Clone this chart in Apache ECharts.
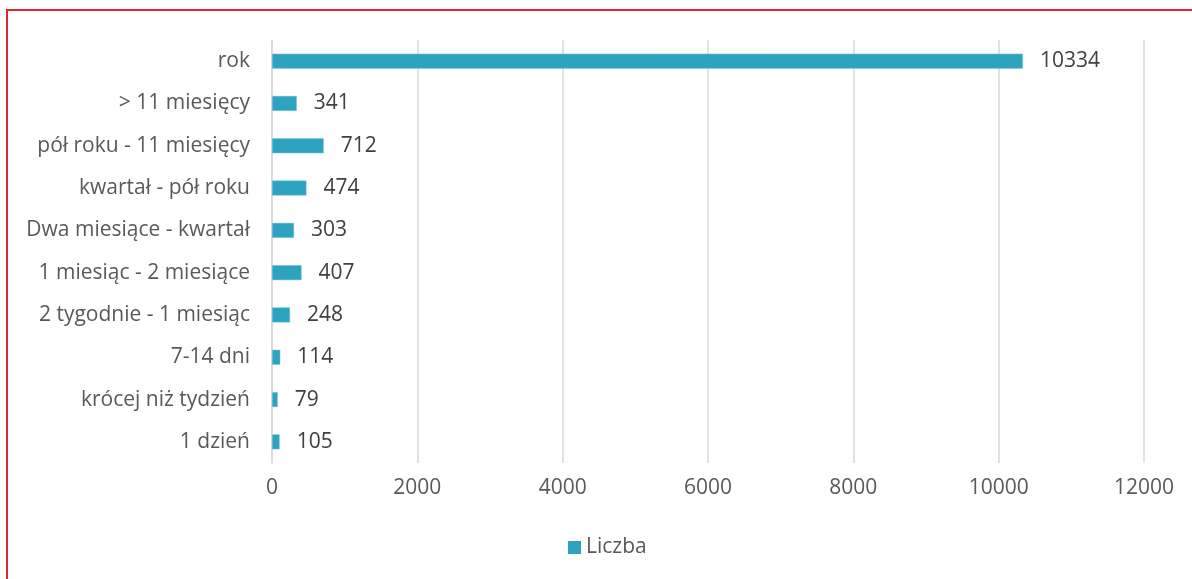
<!DOCTYPE html>
<html>
<head>
<meta charset="utf-8">
<script src="https://cdn.jsdelivr.net/npm/echarts@6/dist/echarts.min.js"></script>
<style>
  html, body { margin: 0; padding: 0; background: #fff; }
  #wrap { position: relative; width: 1192px; height: 579px; overflow: hidden; }
  #frame { position: absolute; left: 6px; top: 9px; width: 1200px; height: 600px;
           border-top: 2px solid #e0252b; border-left: 2px solid #e0252b; box-sizing: border-box; }
  #chart { position: absolute; left: 0; top: 0; width: 1192px; height: 579px; }
</style>
</head>
<body>
<div id="wrap">
  <div id="frame"></div>
  <div id="chart"></div>
</div>
<script>
// Czas trwania (od dołu osi do góry)
const categories = [
  '1 dzień',
  'krócej niż tydzień',
  '7-14 dni',
  '2 tygodnie - 1 miesiąc',
  '1 miesiąc - 2 miesiące',
  'Dwa miesiące - kwartał',
  'kwartał - pół roku',
  'pół roku - 11 miesięcy',
  '> 11 miesięcy',
  'rok'
];
const liczba = [105, 79, 114, 248, 407, 303, 474, 712, 341, 10334];
const axisTicks = [0, 2000, 4000, 6000, 8000, 10000, 12000];

const FONT = 'Open Sans';
const FS = 21;
const chart = echarts.init(document.getElementById('chart'), null, { renderer: 'canvas' });
chart.setOption({
  animation: false,
  backgroundColor: 'transparent',
  textStyle: { fontFamily: FONT },
  grid: { left: 272, right: 48, top: 40, bottom: 116, containLabel: false },
  legend: {
    data: ['Liczba'],
    bottom: 16,
    left: 563,
    icon: 'rect',
    itemWidth: 13,
    itemHeight: 13,
    itemGap: 7,
    itemStyle: { borderWidth: 0 },
    textStyle: { fontSize: FS, color: '#595959', fontFamily: FONT }
  },
  xAxis: {
    type: 'value',
    min: axisTicks[0],
    max: axisTicks[axisTicks.length - 1],
    interval: axisTicks[1] - axisTicks[0],
    axisLine: { show: false },
    axisTick: { show: false },
    splitLine: { lineStyle: { color: '#d9d9d9', width: 1.5 } },
    axisLabel: {
      fontSize: FS, color: '#595959', margin: 15, fontFamily: FONT,
      formatter: v => String(v)
    }
  },
  yAxis: {
    type: 'category',
    data: categories,
    axisLine: { show: true, lineStyle: { color: '#d9d9d9', width: 1.5 } },
    axisTick: { show: false },
    axisLabel: { fontSize: FS, color: '#595959', margin: 22, fontFamily: FONT }
  },
  series: [{
    name: 'Liczba',
    type: 'bar',
    data: liczba,
    barWidth: 15,
    itemStyle: { color: '#2ea3bf', borderColor: '#7cc6d8', borderWidth: 0.5 },
    label: {
      show: true,
      position: 'right',
      distance: 17,
      fontSize: FS,
      color: '#404040',
      fontFamily: FONT,
      formatter: p => String(p.value)
    }
  }]
});
</script>
</body>
</html>
